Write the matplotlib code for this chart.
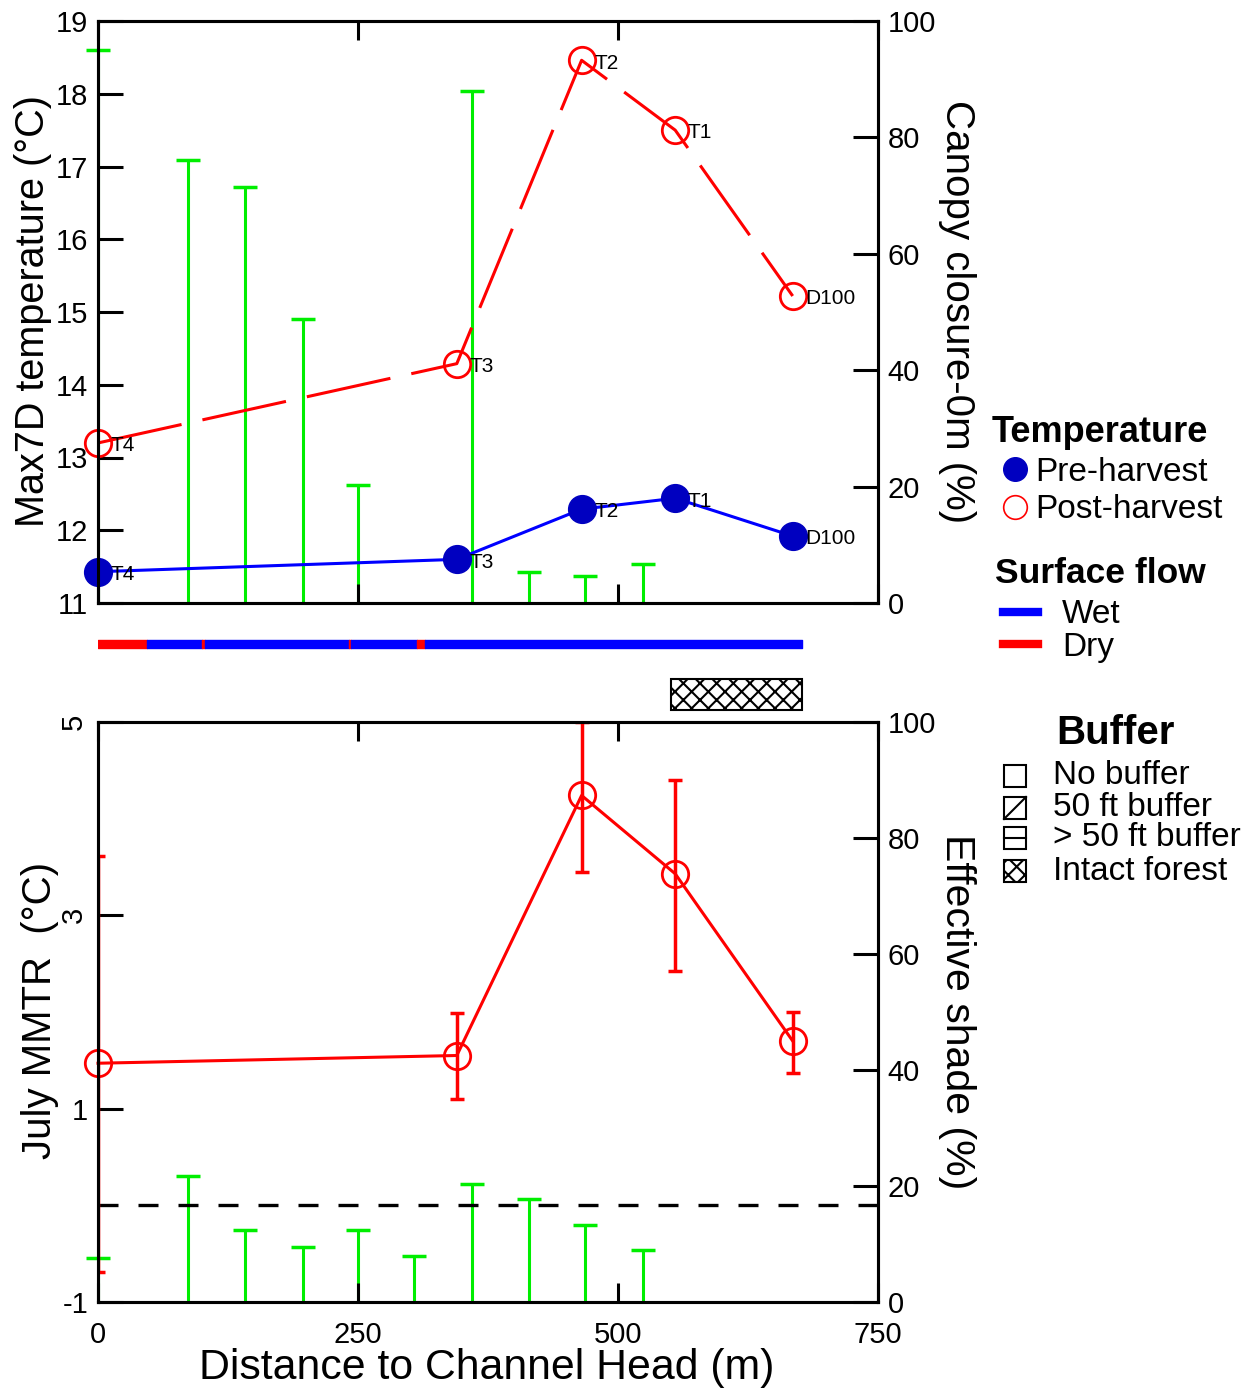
import numpy as np
import matplotlib.pyplot as plt
from matplotlib.lines import Line2D
from matplotlib.patches import Rectangle

plt.rcParams['font.family'] = ['Liberation Sans', 'DejaVu Sans']
plt.rcParams['hatch.linewidth'] = 1.5
plt.rcParams['axes.unicode_minus'] = False

# sites along the stream (m from channel head)
site_names = ["T4", "T3", "T2", "T1", "D100"]
site_dist = np.array([0, 345, 465, 555, 668])
pre_max7d = np.array([11.43, 11.60, 12.29, 12.44, 11.92])
post_max7d = np.array([13.20, 14.29, 18.46, 17.50, 15.22])

# canopy closure at 0 m (top panel)
canopy_dist = np.array([0, 87, 141, 197, 250, 360, 414, 468, 524])
canopy_closure = np.array([95.0, 76.1, 71.4, 48.8, 20.2, 88.0, 5.4, 4.7, 6.7])

# July MMTR with range (bottom panel)
mmtr = np.array([1.47, 1.55, 4.24, 3.43, 1.70])
mmtr_lo = np.array([-0.69, 1.10, 3.45, 2.42, 1.37])
mmtr_hi = np.array([3.61, 1.99, 5.00, 4.40, 2.00])

# effective shade (bottom panel)
shade_dist = np.array([0, 87, 141, 197, 250, 304, 360, 414, 468, 524])
shade = np.array([7.6, 21.7, 12.4, 9.4, 12.4, 8.0, 20.4, 17.7, 13.2, 9.0])

# surface flow segments
flow_start = [0, 46.7, 100, 103, 241.5, 243, 307, 314]
flow_end = [46.7, 100, 103, 241.5, 243, 307, 314, 677]
flow_state = ["Dry", "Wet", "Dry", "Wet", "Dry", "Wet", "Dry", "Wet"]

# intact forest buffer reach
forest_start, forest_end = 551, 677

buffer_labels = ["No buffer", "50 ft buffer", "> 50 ft buffer", "Intact forest"]

RED = "#ff0000"
BLUE = "#0000ff"
NAVY = "#0000c0"
GREEN = "#00ee00"

W, H = 1257, 1394
fig = plt.figure(figsize=(W / 100, H / 100), dpi=100)


def px_axes(l, t, r, b):
    return fig.add_axes([l / W, 1 - b / H, (r - l) / W, (b - t) / H])


def style(ax):
    for s in ax.spines.values():
        s.set_linewidth(2.2)
    ax.tick_params(axis='y', direction='in', length=18, width=2.2, labelsize=21, pad=7)
    ax.tick_params(axis='x', direction='in', length=14, width=2.2, labelsize=21, pad=14)


# ---------------- top panel ----------------
ax1 = px_axes(98, 21, 878, 603)
ax1r = ax1.twinx()
ax1.set_zorder(ax1r.get_zorder() + 1)
ax1.patch.set_visible(False)

ax1r.vlines(canopy_dist, 0, canopy_closure, color=GREEN, lw=2.2)
ax1r.plot(canopy_dist, canopy_closure, ls='none', marker='_', ms=17, mew=2.5,
          color=GREEN, clip_on=False)
ax1r.set_ylim(0, 100)
ax1r.set_yticks(np.arange(0, 101, 20))

ax1.plot(site_dist, post_max7d, color=RED, lw=2.2, ls=(0, (28, 7)), marker='o', ms=19,
         mfc='none', mec=RED, mew=2, clip_on=False)
ax1.plot(site_dist, pre_max7d, color=BLUE, lw=2.2, marker='o', ms=20,
         mfc=NAVY, mec=NAVY, clip_on=False)
for name, x, yp, yq in zip(site_names, site_dist, pre_max7d, post_max7d):
    ax1.annotate(name, (x, yq), xytext=(9, -2), textcoords='offset points',
                 fontsize=15, va='center')
    ax1.annotate(name, (x, yp), xytext=(9, -2), textcoords='offset points',
                 fontsize=15, va='center')

ax1.set_xlim(0, 750)
ax1.set_ylim(11, 19)
ax1.set_yticks(np.arange(11, 20, 1))
ax1.set_xticks([0, 250, 500, 750])
ax1.tick_params(axis='x', top=True, labelbottom=False)
style(ax1)
style(ax1r)
ax1r.tick_params(axis='x', top=True)

ax1.set_ylabel("Max7D temperature (°C)", fontsize=28.5, va='center')
ax1.yaxis.set_label_coords(-0.083, 0.502)
ax1r.set_ylabel("Canopy closure-0m (%)", fontsize=29, rotation=-90, va='center')
ax1r.yaxis.set_label_coords(1.101, 0.5)

# ---------------- middle strip ----------------
axm = px_axes(98, 612, 878, 716)
axm.set_xlim(0, 750)
axm.set_ylim(104, 0)
axm.axis('off')
for s, e, st in zip(flow_start, flow_end, flow_state):
    axm.broken_barh([(s, e - s)], (28, 8), color=BLUE if st == "Wet" else RED)
axm.add_patch(Rectangle((forest_start, 67), forest_end - forest_start, 31,
                        facecolor='white', edgecolor='black', hatch='xx', lw=1.5))

# ---------------- bottom panel ----------------
ax2 = px_axes(98, 722, 878, 1302)
ax2r = ax2.twinx()
ax2.set_zorder(ax2r.get_zorder() + 1)
ax2.patch.set_visible(False)

ax2r.vlines(shade_dist, 0, shade, color=GREEN, lw=2.2)
ax2r.plot(shade_dist, shade, ls='none', marker='_', ms=17, mew=2.5,
          color=GREEN, clip_on=False)
ax2r.set_ylim(0, 100)
ax2r.set_yticks(np.arange(0, 101, 20))

ax2.axhline(0, color='black', lw=2.4, ls=(0, (6, 6)))
ax2.errorbar(site_dist, mmtr, yerr=[mmtr - mmtr_lo, mmtr_hi - mmtr], fmt='none',
             ecolor=RED, elinewidth=2.5, capsize=5, capthick=2.5)
ax2.plot(site_dist, mmtr, color=RED, lw=2.2, marker='o', ms=19, mfc='none',
         mec=RED, mew=2, clip_on=False)

ax2.set_xlim(0, 750)
ax2.set_ylim(-1, 5)
yt = [-1, 1, 3, 5]
ax2.set_yticks(yt)
ax2.set_xticks([0, 250, 500, 750])
style(ax2)
style(ax2r)
ax2.tick_params(axis='x', top=True)
for lbl, v in zip(ax2.get_yticklabels(), yt):
    if v in (3, 5):
        lbl.set_rotation(90)
        lbl.set_va('center')

ax2.set_ylabel("July MMTR  (°C)", fontsize=29, va='center')
ax2.yaxis.set_label_coords(-0.074, 0.503)
ax2r.set_ylabel("Effective shade (%)", fontsize=29.5, rotation=-90, va='center')
ax2r.yaxis.set_label_coords(1.101, 0.5)
ax2.set_xlabel("Distance to Channel Head (m)", fontsize=30.8, va='center')
ax2.xaxis.set_label_coords(0.498, -0.114)

# ---------------- legends ----------------
fig.text(992 / W, 1 - 433 / H, "Temperature", fontsize=26, weight='bold', va='center')
fig.text(995 / W, 1 - 573 / H, "Surface flow", fontsize=25.5, weight='bold', va='center')
fig.text(1115 / W, 1 - 733 / H, "Buffer", fontsize=29, weight='bold', va='center', ha='center')

temp_handles = [Line2D([], [], ls='none', marker='o', ms=17, mfc=NAVY, mec=NAVY),
                Line2D([], [], ls='none', marker='o', ms=17, mfc='none', mec=RED, mew=1.2)]
fig.legend(temp_handles, ["Pre-harvest", "Post-harvest"],
           loc='center left', bbox_to_anchor=(998 / W, 1 - 491 / H), frameon=False,
           fontsize=24, handlelength=1.0, handletextpad=0.12,
           borderpad=0, borderaxespad=0, labelspacing=0.2)

flow_handles = [Line2D([], [], color=BLUE, lw=6), Line2D([], [], color=RED, lw=6)]
fig.legend(flow_handles, ["Wet", "Dry"],
           loc='center left', bbox_to_anchor=(1003 / W, 1 - 631 / H), frameon=False,
           fontsize=24, handlelength=1.05, handletextpad=0.72,
           borderpad=0, borderaxespad=0, labelspacing=0.05)

# buffer key drawn in figure pixels
axk = fig.add_axes([0, 0, 1, 1])
axk.set_xlim(0, W)
axk.set_ylim(H, 0)
axk.axis('off')
key_y = [776, 808, 838, 871]
for lab, yc in zip(buffer_labels, key_y):
    x0, x1, y0, y1 = 1004, 1026, yc - 11, yc + 11
    if lab == "Intact forest":
        axk.add_patch(Rectangle((x0, y0), x1 - x0, y1 - y0, facecolor='white',
                                edgecolor='black', lw=1.5, hatch='xx'))
    else:
        axk.add_patch(Rectangle((x0, y0), x1 - x0, y1 - y0, facecolor='white',
                                edgecolor='black', lw=1.5))
    if lab == "50 ft buffer":
        axk.plot([x0, x1], [y1, y0], color='black', lw=1.5)
    if lab == "> 50 ft buffer":
        axk.plot([x0, x1], [yc, yc], color='black', lw=1.5)
    axk.text(1053, yc, lab, fontsize=24, va='center', ha='left')

fig.savefig("out.png", dpi=100)
